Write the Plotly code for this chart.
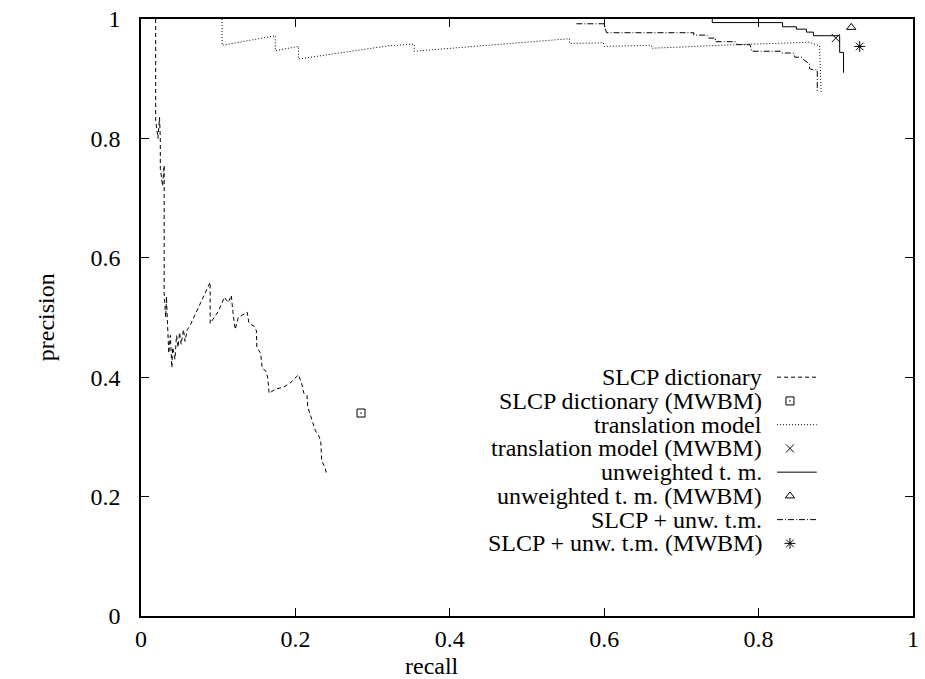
import plotly.graph_objects as go

# ---------------- data ----------------
slcp_recall = [0.019, 0.019, 0.022, 0.024, 0.025, 0.025, 0.028, 0.030, 0.030, 0.030, 0.032, 0.033,
               0.034, 0.036, 0.038, 0.040, 0.041, 0.044, 0.046, 0.048, 0.050, 0.052, 0.055, 0.057,
               0.060, 0.063, 0.0896, 0.0896, 0.100, 0.108, 0.113, 0.117, 0.119, 0.122, 0.126, 0.1375,
               0.140, 0.147, 0.1495, 0.150, 0.155, 0.157, 0.162, 0.164, 0.166, 0.174, 0.184, 0.193,
               0.204, 0.208, 0.211, 0.215, 0.216, 0.219, 0.223, 0.226, 0.231, 0.233, 0.234, 0.238, 0.240]
slcp_prec = [1.0, 0.83, 0.80, 0.835, 0.80, 0.75, 0.72, 0.755, 0.71, 0.54, 0.50, 0.535,
             0.50, 0.44, 0.47, 0.416, 0.45, 0.43, 0.47, 0.45, 0.475, 0.455, 0.48, 0.46,
             0.48, 0.485, 0.559, 0.49, 0.51, 0.534, 0.525, 0.537, 0.51, 0.48, 0.50, 0.509,
             0.49, 0.485, 0.478, 0.45, 0.44, 0.415, 0.41, 0.40, 0.373, 0.38, 0.383, 0.39,
             0.404, 0.39, 0.373, 0.37, 0.35, 0.337, 0.32, 0.31, 0.30, 0.29, 0.26, 0.25, 0.24]

tm_recall = [0.105, 0.105, 0.174, 0.174, 0.204, 0.204, 0.320, 0.354, 0.354, 0.555, 0.555,
             0.599, 0.600, 0.661, 0.662, 0.770, 0.866, 0.872, 0.879, 0.881]
tm_prec = [1.0, 0.956, 0.972, 0.947, 0.954, 0.933, 0.955, 0.958, 0.946, 0.967, 0.959,
           0.960, 0.954, 0.956, 0.951, 0.957, 0.961, 0.958, 0.955, 0.876]

unw_recall = [0.740, 0.740, 0.831, 0.831, 0.849, 0.849, 0.862, 0.862, 0.871, 0.871, 0.905,
              0.905, 0.910, 0.910]
unw_prec = [1.0, 0.994, 0.994, 0.987, 0.987, 0.983, 0.983, 0.978, 0.978, 0.972, 0.972,
            0.944, 0.944, 0.910]

comb_recall = [0.564, 0.600, 0.603, 0.716, 0.716, 0.733, 0.735, 0.744, 0.744, 0.770, 0.772,
               0.789, 0.791, 0.828, 0.830, 0.845, 0.847, 0.856, 0.860, 0.866, 0.866, 0.870,
               0.876, 0.876]
comb_prec = [0.992, 0.992, 0.977, 0.977, 0.973, 0.973, 0.968, 0.968, 0.962, 0.962, 0.957,
             0.957, 0.946, 0.946, 0.943, 0.943, 0.936, 0.936, 0.930, 0.925, 0.917, 0.915,
             0.915, 0.876]

mwbm_names = ["SLCP dictionary (MWBM)", "translation model (MWBM)",
              "unweighted t. m. (MWBM)", "SLCP + unw. t.m. (MWBM)"]
mwbm_recall = [0.285, 0.900, 0.920, 0.931]
mwbm_prec = [0.340, 0.968, 0.986, 0.954]

legend_labels = ["SLCP dictionary", "SLCP dictionary (MWBM)", "translation model",
                 "translation model (MWBM)", "unweighted t. m.", "unweighted t. m. (MWBM)",
                 "SLCP + unw. t.m.", "SLCP + unw. t.m. (MWBM)"]

x_ticks = [0, 0.2, 0.4, 0.6, 0.8, 1]
y_ticks = [0, 0.2, 0.4, 0.6, 0.8, 1]

# ---------------- styles ----------------
FONT = "Liberation Serif"
FS = 24
dash_slcp = "4px,3px"
dash_tm = "1px,2px"
dash_comb = "6px,2px,1px,2px"
markers = ["square-open-dot", "x-thin-open", "triangle-up-open", "asterisk-open"]
msizes = [8, 8, 8, 9]

W, H = 925, 679
L, R, T, B = 141, 6, 16, 63
X0, X1 = L, W - R      # pixel extent of plot area
Y0, Y1 = T, H - B


def px_to_paper(px, py):
    return (px - X0) / (X1 - X0), (Y1 - py) / (Y1 - Y0)


fig = go.Figure()

line_series = [
    (slcp_recall, slcp_prec, dash_slcp),
    (tm_recall, tm_prec, dash_tm),
    (unw_recall, unw_prec, "solid"),
    (comb_recall, comb_prec, dash_comb),
]
for xs, ys, d in line_series:
    fig.add_trace(go.Scatter(x=xs, y=ys, mode="lines", showlegend=False,
                             line=dict(color="black", width=1, dash=d),
                             hoverinfo="skip"))

for i in range(len(mwbm_names)):
    fig.add_trace(go.Scatter(x=[mwbm_recall[i]], y=[mwbm_prec[i]], mode="markers",
                             name=mwbm_names[i], showlegend=False,
                             marker=dict(symbol=markers[i], size=msizes[i], color="black",
                                         line=dict(color="black", width=1))))

# ---------------- manual gnuplot-style key (overlay pixel axes) ----------------
row0, rowstep = 376.0, 23.86
text_right = 768
line_x = [782, 822]
mark_x = 795
line_dashes = [dash_slcp, dash_tm, "solid", dash_comb]
annotations = []
for i, lab in enumerate(legend_labels):
    yc = row0 + rowstep * i
    ax_, ay_ = px_to_paper(text_right, yc)
    annotations.append(dict(x=ax_, y=ay_, xref="paper", yref="paper", text=lab,
                            showarrow=False, xanchor="right", yanchor="middle",
                            borderpad=0,
                            font=dict(family=FONT, size=FS, color="black")))
    k = i // 2
    if i % 2 == 0:
        fig.add_trace(go.Scatter(x=line_x, y=[yc, yc], xaxis="x2", yaxis="y2", mode="lines",
                                 showlegend=False, hoverinfo="skip",
                                 line=dict(color="black", width=1, dash=line_dashes[k])))
    else:
        fig.add_trace(go.Scatter(x=[mark_x], y=[yc], xaxis="x2", yaxis="y2", mode="markers",
                                 showlegend=False, hoverinfo="skip",
                                 marker=dict(symbol=markers[k], size=msizes[k], color="black",
                                             line=dict(color="black", width=1))))

# axis titles
tx, ty = px_to_paper(434, 666)
annotations.append(dict(x=tx, y=ty, xref="paper", yref="paper", text="recall",
                        showarrow=False, xanchor="center", yanchor="middle",
                        borderpad=0,
                        font=dict(family=FONT, size=FS, color="black")))
tx, ty = px_to_paper(45, 316)
annotations.append(dict(x=tx, y=ty, xref="paper", yref="paper", text="precision",
                        textangle=-90, showarrow=False, xanchor="center", yanchor="middle",
                        font=dict(family=FONT, size=FS, color="black")))

axis_common = dict(showgrid=False, zeroline=False, showline=True, linecolor="black",
                   linewidth=1.5, mirror="allticks", ticks="inside", ticklen=8,
                   tickcolor="black", tickwidth=1,
                   tickfont=dict(family=FONT, size=FS, color="black"))

fig.update_layout(
    width=W, height=H,
    margin=dict(l=L, r=R, t=T, b=B, pad=0),
    plot_bgcolor="white", paper_bgcolor="white",
    showlegend=False,
    font=dict(family=FONT, size=FS, color="black"),
    xaxis=dict(range=[0, 1], tickvals=x_ticks, ticktext=[f"{v:g}" for v in x_ticks],
               ticklabelstandoff=0, **axis_common),
    yaxis=dict(range=[0, 1], tickvals=y_ticks, ticktext=[f"{v:g}" for v in y_ticks],
               ticklabelstandoff=14, **axis_common),
    xaxis2=dict(range=[X0, X1], overlaying="x", visible=False, fixedrange=True),
    yaxis2=dict(range=[Y1, Y0], overlaying="y", visible=False, fixedrange=True),
    annotations=annotations,
)

fig.write_html("out.html")
